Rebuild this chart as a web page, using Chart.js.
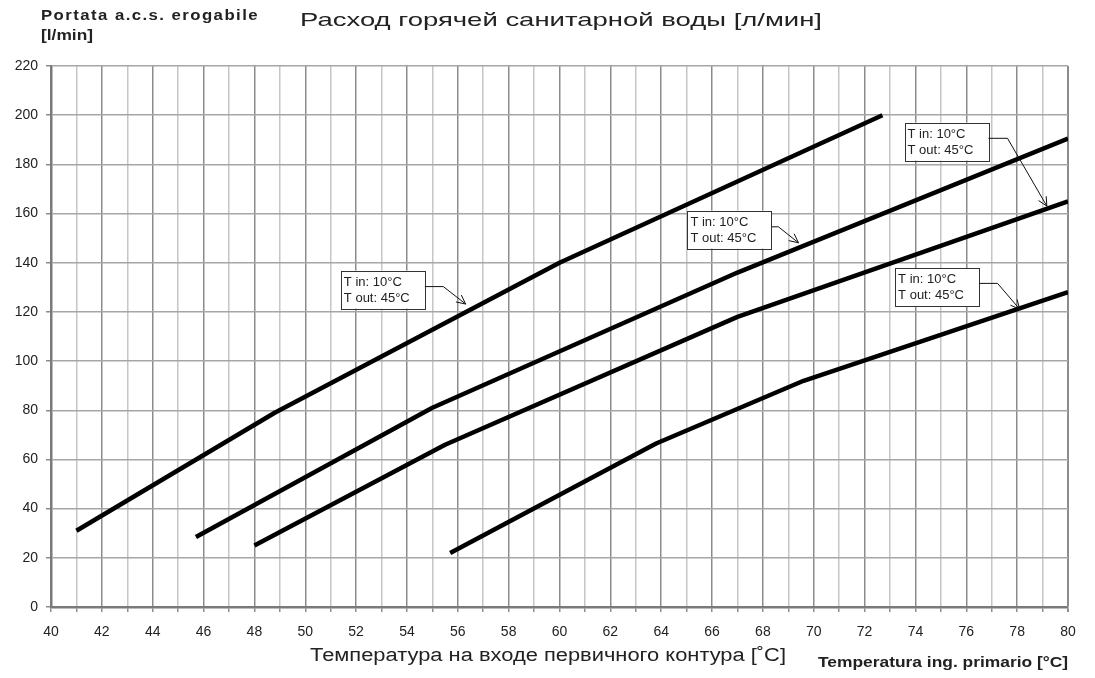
<!DOCTYPE html>
<html>
<head>
<meta charset="utf-8">
<script src="https://cdn.jsdelivr.net/npm/chart.js@4"></script>
<style>
  html,body{margin:0;padding:0;background:#fff;}
  #wrap{width:1095px;height:678px;position:relative;}
</style>
</head>
<body>
<div id="wrap"><canvas id="chart" width="1095" height="678"></canvas></div>
<script>
// curves: T in 10°C / T out 45°C, one per model
const curve1X = [41, 48.8, 60, 72.7];
const curve1Y = [31, 79, 140, 200];
const curve2X = [45.7, 55, 67, 80];
const curve2Y = [28.5, 81, 136, 190.5];
const curve3X = [48, 55.5, 67, 80];
const curve3Y = [25, 66, 118, 165];
const curve4X = [55.7, 63.8, 69.6, 80];
const curve4Y = [22, 66.5, 92, 128];

const xTicks = [40, 80, 1];   // min, max, step
const yTicks = [0, 220, 20];

const noteText = ['T in: 10°C', 'T out: 45°C'];
// label box top-left, elbow, arrow tip (data units)
const notes = [
  { box:[51.4, 136.8], elbow:[55.43, 130.3], tip:[56.31, 123.2] },
  { box:[65.03, 161.2], elbow:[68.61, 154.6], tip:[69.4, 148.1] },
  { box:[73.57, 197.0], elbow:[77.62, 190.6], tip:[79.17, 163.0] },
  { box:[73.2, 137.7], elbow:[77.23, 131.6], tip:[78.1, 121.1] }
];

const FONT = '"Liberation Sans", Arial, sans-serif';
const zip = (xs, ys) => xs.map((x,i)=>({x, y:ys[i]}));
const ds = (xs, ys) => ({
  data: zip(xs, ys), borderColor:'#000', borderWidth:4.5, pointRadius:0,
  tension:0, fill:false, borderCapStyle:'butt', borderJoinStyle:'round'
});

// the source picture is a bit wider than tall, so text is squeezed to a width
function fitText(c, txt, x, y, font, w, spacing){
  c.save();
  c.font = font;
  c.letterSpacing = (spacing||0) + 'px';
  const m = c.measureText(txt).width;
  c.translate(x, y);
  c.scale(w / m, 1);
  c.fillText(txt, 0, 0);
  c.restore();
}

const texts = {
  id:'texts',
  afterDraw(chart){
    const c = chart.ctx, xs = chart.scales.x, ys = chart.scales.y;
    c.save();
    c.fillStyle = '#222';
    c.textBaseline = 'alphabetic';
    c.textAlign = 'left';
    fitText(c, 'Portata a.c.s. erogabile', 41, 20, 'bold 14px ' + FONT, 218, 1.2);
    fitText(c, '[l/min]', 41, 40, 'bold 14px ' + FONT, 52);
    fitText(c, 'Расход горячей санитарной воды [л/мин]', 300, 26, '19px ' + FONT, 522);
    fitText(c, 'Температура на входе первичного контура [˚C]', 310, 661, '18px ' + FONT, 476);
    fitText(c, 'Temperatura ing. primario [°C]', 818, 667, 'bold 15px ' + FONT, 250);

    // annotations
    c.font = '13px ' + FONT;
    notes.forEach(n=>{
      const bx = xs.getPixelForValue(n.box[0]), by = ys.getPixelForValue(n.box[1]);
      const w = 84, h = 38;
      const ex = xs.getPixelForValue(n.elbow[0]), ey = ys.getPixelForValue(n.elbow[1]);
      const tx = xs.getPixelForValue(n.tip[0]), ty = ys.getPixelForValue(n.tip[1]);
      c.fillStyle = '#fff';
      c.fillRect(bx, by, w, h);
      c.strokeStyle = '#333';
      c.lineWidth = 1;
      c.strokeRect(Math.round(bx)+0.5, Math.round(by)+0.5, w, h);
      c.fillStyle = '#222';
      c.fillText(noteText[0], bx+3, by+15);
      c.fillText(noteText[1], bx+3, by+31);
      c.strokeStyle = '#111';
      c.beginPath();
      c.moveTo(bx+w, ey); c.lineTo(ex, ey); c.lineTo(tx, ty);
      c.stroke();
      const a = Math.atan2(ty-ey, tx-ex), L = 10, s = 0.45;
      c.beginPath();
      c.moveTo(tx - L*Math.cos(a-s), ty - L*Math.sin(a-s));
      c.lineTo(tx, ty);
      c.lineTo(tx - L*Math.cos(a+s), ty - L*Math.sin(a+s));
      c.stroke();
    });
    c.restore();
  }
};

new Chart(document.getElementById('chart'), {
  type:'line',
  data:{ datasets:[ds(curve1X,curve1Y), ds(curve2X,curve2Y), ds(curve3X,curve3Y), ds(curve4X,curve4Y)] },
  options:{
    responsive:false, animation:false,
    layout:{ padding:{ left:0, top:66, right:27, bottom:0 } },
    plugins:{ legend:{display:false}, tooltip:{enabled:false} },
    scales:{
      x:{
        type:'linear', min:xTicks[0], max:xTicks[1],
        afterFit(s){ s.height = 71; },
        ticks:{ stepSize:xTicks[2], autoSkip:false, maxRotation:0, padding:12,
          color:'#222', font:{ size:14, family:FONT },
          callback:(v)=> v % 2 === 0 ? v : '' },
        grid:{
          color:(ctx)=> ctx.tick && ctx.tick.value % 2 === 0 ? '#8c8c8c' : '#c6c6c6',
          lineWidth:(ctx)=> ctx.tick && ctx.tick.value === 80 ? 2 : 1.5,
          tickLength:5, tickColor:'#8c8c8c'
        },
        border:{ color:'#7a7a7a', width:2.5 }
      },
      y:{
        min:yTicks[0], max:yTicks[1],
        afterFit(s){ s.width = 51; },
        ticks:{ stepSize:yTicks[2], padding:8, color:'#222',
          font:{ size:14, family:FONT } },
        grid:{ color:'#a6a6a6', lineWidth:1.5, tickLength:5, tickColor:'#8c8c8c' },
        border:{ color:'#7a7a7a', width:2.5 }
      }
    }
  },
  plugins:[texts]
});
</script>
</body>
</html>
